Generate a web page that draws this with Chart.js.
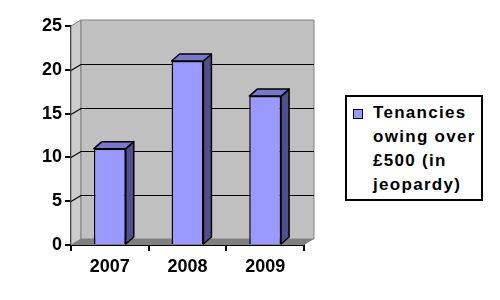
<!DOCTYPE html>
<html>
<head>
<meta charset="utf-8">
<script src="https://cdn.jsdelivr.net/npm/chart.js@4"></script>
<style>
  body { margin: 0; background: #fff; }
  #wrap { position: relative; width: 500px; height: 300px; }
  #legend {
    position: absolute; left: 345px; top: 95px; width: 134px; height: 102px;
    border: 2px solid #000; background: #fff;
    font: bold 17px "Liberation Sans", Arial, sans-serif; letter-spacing: 1.3px;
    line-height: 24px; color: #000;
  }
  #legend .box {
    position: absolute; left: 6px; top: 12px; width: 8px; height: 8px;
    background: #9999ff; border: 1px solid #000;
  }
  #legend .txt { position: absolute; left: 26px; top: 4px; }
</style>
</head>
<body>
<div id="wrap">
  <canvas id="c" width="500" height="300"></canvas>
  <div id="legend"><div class="box"></div><div class="txt">Tenancies<br>owing over<br>£500 (in<br>jeopardy)</div></div>
</div>
<script>
const years = ['2007', '2008', '2009'];
const tenancies = [11, 21, 17];

const wallDx = 10, wallDy = -6;
const barDx = 8, barDy = -7;

function poly(ctx, pts, fill, stroke, lw) {
  ctx.beginPath();
  ctx.moveTo(pts[0][0], pts[0][1]);
  for (let i = 1; i < pts.length; i++) ctx.lineTo(pts[i][0], pts[i][1]);
  ctx.closePath();
  if (fill) { ctx.fillStyle = fill; ctx.fill(); }
  if (stroke) { ctx.strokeStyle = stroke; ctx.lineWidth = lw || 1; ctx.stroke(); }
}

const walls = {
  id: 'walls',
  beforeDatasetsDraw(chart) {
    const { ctx, chartArea: a, scales: { y } } = chart;
    ctx.save();
    // side wall
    poly(ctx, [[a.left, a.top], [a.left + wallDx, a.top + wallDy], [a.left + wallDx, a.bottom + wallDy], [a.left, a.bottom]], '#cccccc', '#808080');
    // back wall
    poly(ctx, [[a.left + wallDx, a.top + wallDy], [a.right + wallDx, a.top + wallDy], [a.right + wallDx, a.bottom + wallDy], [a.left + wallDx, a.bottom + wallDy]], '#c0c0c0', '#808080');
    // floor
    poly(ctx, [[a.left, a.bottom], [a.left + wallDx, a.bottom + wallDy], [a.right + wallDx, a.bottom + wallDy], [a.right, a.bottom]], '#808080', null);
    // grid lines on the back wall
    ctx.strokeStyle = '#000';
    ctx.lineWidth = 1.2;
    y.ticks.forEach((t) => {
      if (t.value <= 0 || t.value >= y.max) return;
      const py = Math.round(y.getPixelForValue(t.value)) + 0.5;
      ctx.beginPath();
      ctx.moveTo(a.left, py);
      ctx.lineTo(a.left + wallDx, py + wallDy);
      ctx.lineTo(a.right + wallDx, py + wallDy);
      ctx.stroke();
    });
    ctx.restore();
  },
  afterDatasetsDraw(chart) {
    const { ctx } = chart;
    const meta = chart.getDatasetMeta(0);
    ctx.save();
    ctx.lineJoin = 'round';
    meta.data.forEach((bar) => {
      const l = bar.x - bar.width / 2, r = bar.x + bar.width / 2;
      poly(ctx, [[r, bar.y], [r + barDx, bar.y + barDy], [r + barDx, bar.base + barDy], [r, bar.base]], '#4f4f8c', '#000', 1.5);
      poly(ctx, [[l, bar.y], [l + barDx, bar.y + barDy], [r + barDx, bar.y + barDy], [r, bar.y]], '#7777cc', '#000', 1.5);
    });
    ctx.restore();
  },
};

new Chart(document.getElementById('c'), {
  type: 'bar',
  data: {
    labels: years,
    datasets: [{
      label: 'Tenancies owing over £500 (in jeopardy)',
      data: tenancies,
      backgroundColor: '#9999ff',
      borderColor: '#000',
      borderWidth: 1.5,
      barPercentage: 0.82,
      categoryPercentage: 0.5,
    }],
  },
  options: {
    responsive: false,
    animation: false,
    layout: { padding: { left: 0, right: 196, top: 26, bottom: 0 } },
    plugins: { legend: { display: false }, tooltip: { enabled: false } },
    scales: {
      x: {
        afterFit(s) { s.height = 55; },
        grid: { display: true, drawOnChartArea: false, drawTicks: true, tickLength: 6, color: '#000', lineWidth: 2 },
        border: { display: true, color: '#000', width: 2 },
        ticks: { color: '#000', padding: 5, font: { family: 'Liberation Sans, Arial', size: 18, weight: 'bold' } },
      },
      y: {
        min: 0,
        max: 25,
        afterFit(s) { s.width = 71; },
        grid: { display: true, drawOnChartArea: false, drawTicks: true, tickLength: 6, color: '#000', lineWidth: 2 },
        border: { display: true, color: '#000', width: 2 },
        ticks: { stepSize: 5, color: '#000', padding: 3, font: { family: 'Liberation Sans, Arial', size: 18, weight: 'bold' } },
      },
    },
  },
  plugins: [walls],
});
</script>
</body>
</html>
